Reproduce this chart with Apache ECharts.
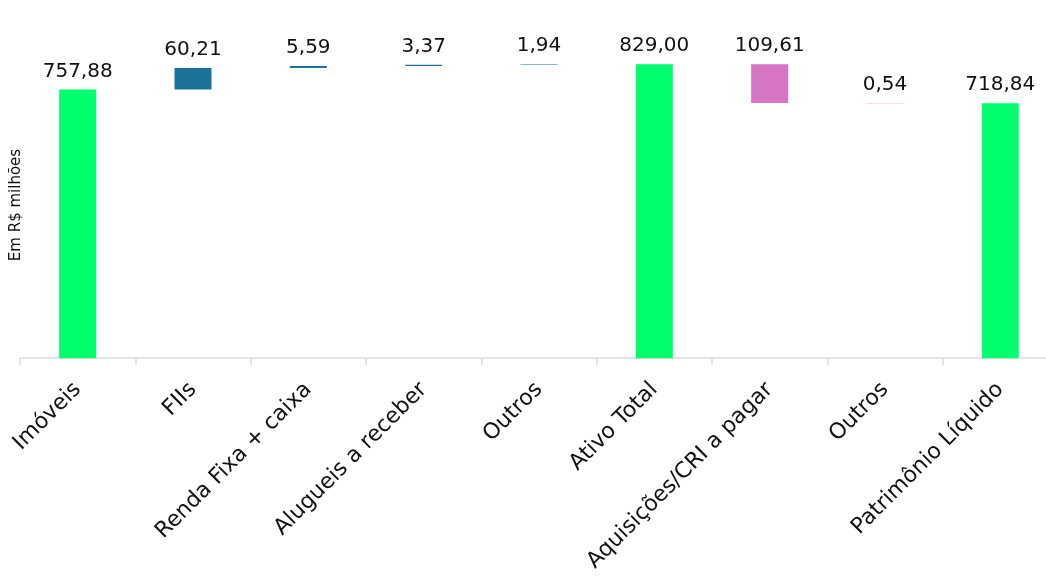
<!DOCTYPE html>
<html>
<head>
<meta charset="utf-8">
<script src="https://cdn.jsdelivr.net/npm/echarts@6/dist/echarts.min.js"></script>
<style>
html,body{margin:0;padding:0;background:#fff;overflow:hidden;width:1046px;height:580px;}
#c{width:1058px;height:580px;}
</style>
</head>
<body>
<div id="c"></div>
<script>
const categories = ['Imóveis','FIIs','Renda Fixa + caixa','Alugueis a receber','Outros','Ativo Total','Aquisições/CRI a pagar','Outros','Patrimônio Líquido'];
const values = [757.88, 60.21, 5.59, 3.37, 1.94, 829.00, 109.61, 0.54, 718.84];
// kind: 'total' bar from zero, 'up' increase, 'down' decrease
const kinds = ['total','up','up','up','up','total','down','down','total'];
const colors = { total: '#00ff6e', up: '#1b7298', down: '#d675c4' };

const FONT = 'DejaVu Sans';
const fmt = v => v.toFixed(2).replace('.', ',');

// build waterfall base / height from the values
let running = 0;
const base = [], height = [];
values.forEach((v, i) => {
  const k = kinds[i];
  if (k === 'total') { base.push(0); height.push(v); running = v; }
  else if (k === 'up') { base.push(running); height.push(v); running += v; }
  else { running -= v; base.push(running); height.push(v); }
});

const chart = echarts.init(document.getElementById('c'));
chart.setOption({
  animation: false,
  grid: { left: 20, top: 39, right: 0, height: 319.2 },
  xAxis: {
    type: 'category',
    data: categories,
    axisLine: { lineStyle: { color: '#dcdcdc', width: 1.5 } },
    axisTick: { show: true, length: 7, lineStyle: { color: '#dcdcdc', width: 1.5 } },
    axisLabel: { rotate: 45, color: '#111', fontFamily: FONT, fontSize: 22, margin: 28, interval: 0 }
  },
  yAxis: {
    type: 'value', min: 0, max: 900,
    show: false
  },
  graphic: [{
    type: 'text', x: 9, y: 205, rotation: Math.PI / 2,
    style: { text: 'Em R$ milhões', font: '15px "' + FONT + '"', fill: '#111', align: 'center', verticalAlign: 'top' }
  }],
  series: [
    {
      type: 'bar', stack: 'w', barWidth: 37, silent: true,
      itemStyle: { color: 'transparent' },
      data: base
    },
    {
      type: 'bar', stack: 'w', barWidth: 37,
      data: height.map((h, i) => ({ value: h, itemStyle: { color: colors[kinds[i]] } })),
      label: {
        show: true, position: 'top', distance: 8,
        fontFamily: FONT, fontSize: 20, color: '#111',
        formatter: p => fmt(values[p.dataIndex])
      }
    }
  ]
});
</script>
</body>
</html>
